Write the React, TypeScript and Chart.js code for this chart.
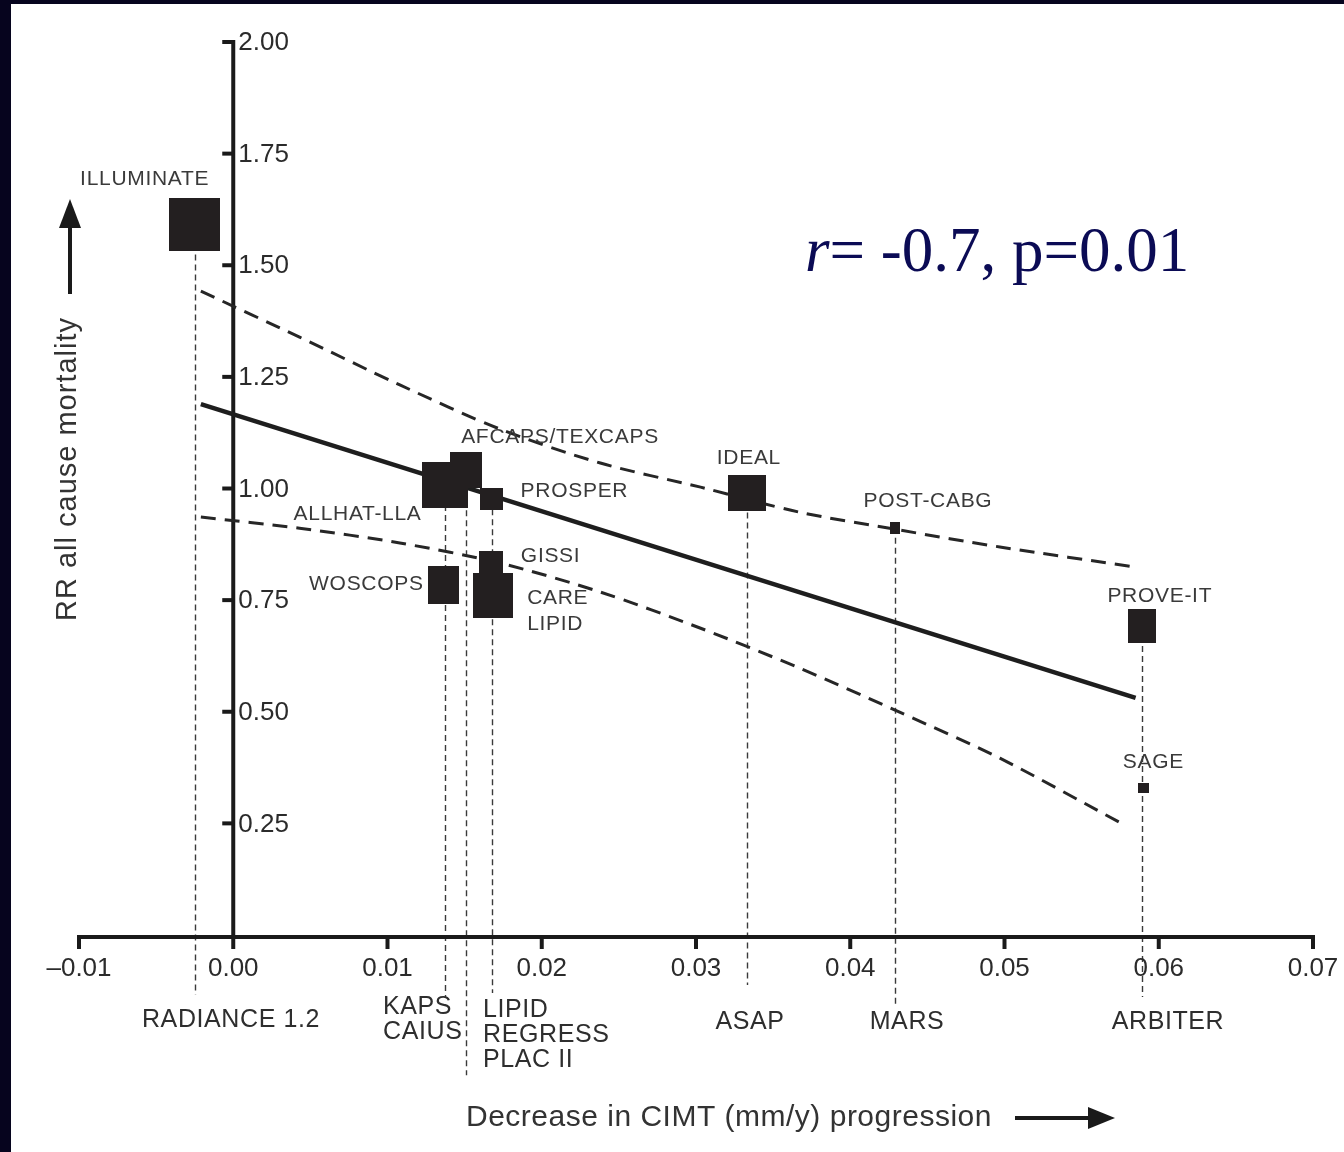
import React, { useEffect, useRef } from "react";
import { Chart, registerables } from "chart.js";

Chart.register(...registerables);

// ---------- data ----------
const studyNames = [
  "ILLUMINATE",
  "ALLHAT-LLA",
  "AFCAPS/TEXCAPS",
  "PROSPER",
  "GISSI",
  "CARE\nLIPID",
  "WOSCOPS",
  "IDEAL",
  "POST-CABG",
  "PROVE-IT",
  "SAGE",
];
const cimtDecrease = [-0.0025, 0.0137, 0.0151, 0.01675, 0.0167, 0.01685, 0.01364, 0.0333, 0.0429, 0.0589, 0.059];
const rrMortality = [1.591, 1.008, 1.041, 0.976, 0.833, 0.76, 0.784, 0.991, 0.912, 0.692, 0.329];
// marker box size (study weight), px
const markerW = [51, 46, 32, 23, 24, 40, 31, 38, 10, 28, 11];
const markerH = [53, 46, 36, 22, 24, 45, 38, 36, 12, 34, 10];

// regression line and its confidence band
const fitX = [-0.0021, 0.0585];
const fitY = [1.189, 0.531];
const upperX = [-0.0021, 0.0043, 0.0108, 0.0173, 0.0238, 0.0303, 0.0367, 0.0432, 0.0497, 0.0585];
const upperY = [1.442, 1.339, 1.232, 1.133, 1.057, 1.003, 0.947, 0.907, 0.869, 0.824];
const lowerX = [-0.0021, 0.0043, 0.0108, 0.0173, 0.0238, 0.0303, 0.0367, 0.0432, 0.0497, 0.0578];
const lowerY = [0.936, 0.911, 0.878, 0.833, 0.768, 0.687, 0.598, 0.499, 0.396, 0.246];

// dashed drop lines from studies down to the CIMT trial names
const guideStudy = [0, 1, 2, 3, 7, 8, 9];
const guideBottom = [-0.134, -0.139, -0.314, -0.13, -0.112, -0.157, -0.139];

// CIMT trial names under the x axis
const cimtTrials = ["RADIANCE 1.2", "KAPS\nCAIUS", "LIPID\nREGRESS\nPLAC II", "ASAP", "MARS", "ARBITER"];

// ticks
const xTickValues = [-0.01, 0, 0.01, 0.02, 0.03, 0.04, 0.05, 0.06, 0.07];
const xTickLabels = ["\u20130.01", "0.00", "0.01", "0.02", "0.03", "0.04", "0.05", "0.06", "0.07"];
const yTickValues = [0.25, 0.5, 0.75, 1, 1.25, 1.5, 1.75, 2];
const yTickLabels = ["0.25", "0.50", "0.75", "1.00", "1.25", "1.50", "1.75", "2.00"];

const xTitle = "Decrease in CIMT (mm/y) progression";
const yTitle = "RR all cause mortality";
const statText = ["r", "= -0.7, p=0.01"];

// ---------- layout / style ----------
const NAVY = "#06041e";
const INK = "#231f20";
const SANS = '"Liberation Sans", Arial, Helvetica, sans-serif';

// label offsets relative to marker centre: [dx, dy, align]
const labelPlace: [number, number, CanvasTextAlign][] = [
  [-50, -45, "center"],
  [-23, 29, "right"],
  [-5, -33, "left"],
  [29, -8, "left"],
  [30, -7, "left"],
  [34, 3, "left"],
  [-20, -1, "right"],
  [2, -34, "center"],
  [33, -27, "center"],
  [18, -30, "center"],
  [10, -26, "center"],
];
// CIMT trial name placement (pixel, x anchor, first-line centre y, align)
const trialPlace: [number, number, CanvasTextAlign][] = [
  [231, 1020, "center"],
  [383, 1007, "left"],
  [483, 1010, "left"],
  [750, 1022, "center"],
  [907, 1022, "center"],
  [1168, 1022, "center"],
];

function makeBox(w: number, h: number) {
  const c = document.createElement("canvas");
  c.width = w;
  c.height = h;
  const g = c.getContext("2d")!;
  g.fillStyle = INK;
  g.fillRect(0, 0, w, h);
  return c;
}

const decorPlugin = {
  id: "decor",
  beforeDraw(chart: any) {
    const { ctx, width, height } = chart;
    ctx.save();
    ctx.fillStyle = NAVY;
    ctx.fillRect(0, 0, width, height);
    ctx.fillStyle = "#ffffff";
    ctx.fillRect(11, 4, width - 11, height - 4);
    ctx.restore();
  },
  beforeDatasetsDraw(chart: any) {
    const { ctx } = chart;
    const xs = chart.scales.x;
    const ys = chart.scales.y;
    ctx.save();
    // drop lines
    ctx.strokeStyle = "#3a3a3a";
    ctx.lineWidth = 1.4;
    ctx.setLineDash([6, 4]);
    guideStudy.forEach((si, i) => {
      const px = Math.round(xs.getPixelForValue(cimtDecrease[si])) + 0.5;
      const top = ys.getPixelForValue(rrMortality[si]);
      const bot = ys.getPixelForValue(guideBottom[i]);
      ctx.beginPath();
      ctx.moveTo(px, top);
      ctx.lineTo(px, bot);
      ctx.stroke();
    });
    ctx.setLineDash([]);

    // axes
    const x0 = xs.getPixelForValue(0);
    const y0 = ys.getPixelForValue(0) + 2;
    ctx.strokeStyle = "#1a1a1a";
    ctx.lineWidth = 4;
    ctx.lineCap = "butt";
    ctx.beginPath();
    ctx.moveTo(xs.getPixelForValue(xTickValues[0]) - 2, y0);
    ctx.lineTo(xs.getPixelForValue(xTickValues[xTickValues.length - 1]) + 2, y0);
    ctx.stroke();
    ctx.beginPath();
    ctx.moveTo(x0, y0);
    ctx.lineTo(x0, ys.getPixelForValue(yTickValues[yTickValues.length - 1]) - 2);
    ctx.stroke();
    // x ticks
    xTickValues.forEach((v) => {
      const px = xs.getPixelForValue(v);
      ctx.beginPath();
      ctx.moveTo(px, y0);
      ctx.lineTo(px, y0 + 12);
      ctx.stroke();
    });
    // y ticks
    yTickValues.forEach((v) => {
      const py = ys.getPixelForValue(v);
      ctx.beginPath();
      ctx.moveTo(x0 - 11, py);
      ctx.lineTo(x0, py);
      ctx.stroke();
    });
    // tick labels
    ctx.fillStyle = "#2b2b2b";
    ctx.font = `26px ${SANS}`;
    ctx.textBaseline = "middle";
    ctx.textAlign = "center";
    xTickValues.forEach((v, i) => {
      ctx.fillText(xTickLabels[i], xs.getPixelForValue(v), y0 + 32);
    });
    ctx.textAlign = "left";
    yTickValues.forEach((v, i) => {
      ctx.fillText(yTickLabels[i], x0 + 5, ys.getPixelForValue(v) + 1);
    });
    ctx.restore();
  },
  afterDatasetsDraw(chart: any) {
    const { ctx } = chart;
    const meta = chart.getDatasetMeta(0);
    ctx.save();
    // study labels
    ctx.fillStyle = "#3a3a3a";
    ctx.font = `21px ${SANS}`;
    ctx.textBaseline = "middle";
    (ctx as any).letterSpacing = "0.7px";
    studyNames.forEach((name, i) => {
      const el = meta.data[i];
      const [dx, dy, align] = labelPlace[i];
      ctx.textAlign = align;
      name.split("\n").forEach((line, k) => {
        ctx.fillText(line, el.x + dx, el.y + dy + k * 26);
      });
    });
    // CIMT trial names
    ctx.fillStyle = "#2e2e2e";
    ctx.font = `25px ${SANS}`;
    (ctx as any).letterSpacing = "0.6px";
    cimtTrials.forEach((name, i) => {
      const [x, y, align] = trialPlace[i];
      ctx.textAlign = align;
      name.split("\n").forEach((line, k) => {
        ctx.fillText(line, x, y + k * 25);
      });
    });

    // x title + arrow
    ctx.font = `30px ${SANS}`;
    (ctx as any).letterSpacing = "0.5px";
    ctx.fillStyle = "#333";
    ctx.textAlign = "left";
    ctx.fillText(xTitle, 466, 1118);
    (ctx as any).letterSpacing = "0px";
    ctx.strokeStyle = "#1a1a1a";
    ctx.fillStyle = "#1a1a1a";
    ctx.lineWidth = 4;
    ctx.beginPath();
    ctx.moveTo(1015, 1118);
    ctx.lineTo(1092, 1118);
    ctx.stroke();
    ctx.beginPath();
    ctx.moveTo(1088, 1107);
    ctx.lineTo(1115, 1118);
    ctx.lineTo(1088, 1129);
    ctx.closePath();
    ctx.fill();

    // y title + arrow
    ctx.save();
    ctx.translate(68, 469);
    ctx.rotate(-Math.PI / 2);
    ctx.fillStyle = "#333";
    ctx.textAlign = "center";
    ctx.font = `29px ${SANS}`;
    (ctx as any).letterSpacing = "1px";
    ctx.fillText(yTitle, 0, 0);
    (ctx as any).letterSpacing = "0px";
    ctx.restore();
    ctx.beginPath();
    ctx.moveTo(70, 294);
    ctx.lineTo(70, 222);
    ctx.stroke();
    ctx.beginPath();
    ctx.moveTo(59, 228);
    ctx.lineTo(70, 199);
    ctx.lineTo(81, 228);
    ctx.closePath();
    ctx.fill();

    // correlation statistic
    ctx.fillStyle = "#0b0b55";
    ctx.textAlign = "left";
    ctx.textBaseline = "alphabetic";
    ctx.font = `italic 63px "Liberation Serif", "Times New Roman", serif`;
    ctx.fillText(statText[0], 805, 271);
    const w = ctx.measureText(statText[0]).width;
    ctx.font = `63px "Liberation Serif", "Times New Roman", serif`;
    ctx.fillText(statText[1], 805 + w, 271);
    ctx.restore();
  },
};

export default function App() {
  const ref = useRef<HTMLCanvasElement>(null);
  useEffect(() => {
    const boxes = markerW.map((w, i) => makeBox(w, markerH[i]));
    const line = (xs: number[], ys: number[]) => xs.map((x, i) => ({ x, y: ys[i] }));
    const chart = new Chart(ref.current!, {
      type: "scatter",
      data: {
        datasets: [
          {
            label: "Studies",
            data: line(cimtDecrease, rrMortality),
            pointStyle: boxes as any,
            pointRadius: 5,
            backgroundColor: INK,
            borderColor: INK,
          },
          {
            label: "Regression",
            data: line(fitX, fitY),
            showLine: true,
            borderColor: "#1e1e1e",
            borderWidth: 4.5,
            pointRadius: 0,
          },
          {
            label: "Upper CI",
            data: line(upperX, upperY),
            showLine: true,
            borderColor: "#262626",
            borderWidth: 3,
            borderDash: [15, 9],
            pointRadius: 0,
            tension: 0.3,
          },
          {
            label: "Lower CI",
            data: line(lowerX, lowerY),
            showLine: true,
            borderColor: "#262626",
            borderWidth: 3,
            borderDash: [15, 9],
            pointRadius: 0,
            tension: 0.3,
          },
        ],
      },
      options: {
        responsive: false,
        animation: false,
        events: [],
        layout: { padding: { left: 79, right: 31, top: 42, bottom: 217 } },
        plugins: { legend: { display: false }, tooltip: { enabled: false } },
        scales: {
          x: { type: "linear", display: false, min: -0.01, max: 0.07, ticks: { stepSize: 0.01 } },
          y: { type: "linear", display: false, min: 0, max: 2, ticks: { stepSize: 0.25 } },
        },
      },
      plugins: [decorPlugin],
    });
    return () => chart.destroy();
  }, []);
  return (
    <div style={{ position: "absolute", left: 0, top: 0, width: 1344, height: 1152 }}>
      <canvas ref={ref} width={1344} height={1152} style={{ display: "block" }} />
    </div>
  );
}
